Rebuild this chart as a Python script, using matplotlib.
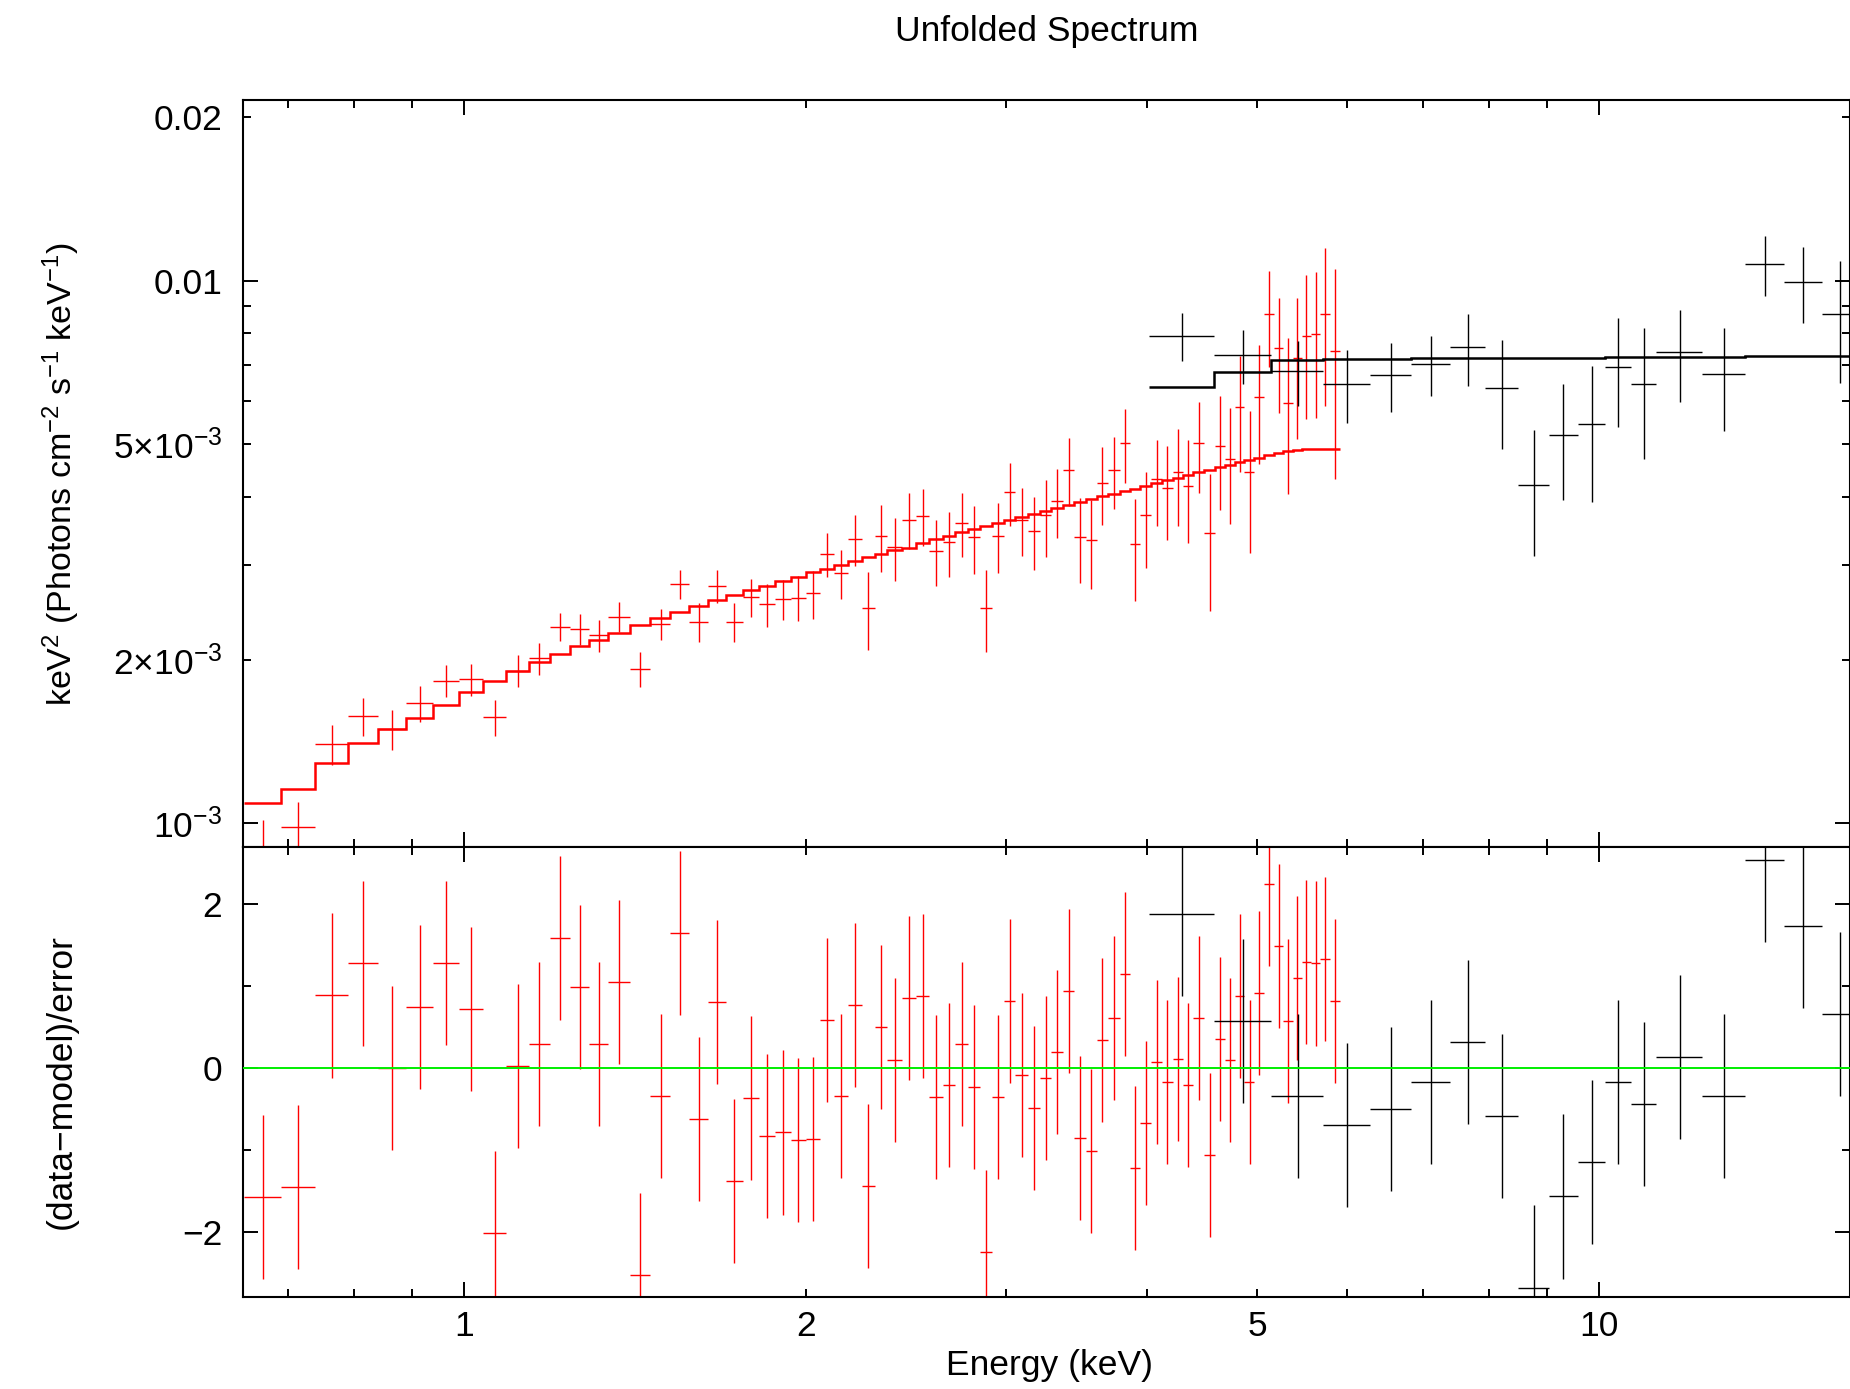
import numpy as np
import matplotlib
matplotlib.use('Agg')
import matplotlib.pyplot as plt
from matplotlib.ticker import FixedLocator, FixedFormatter, NullFormatter

plt.rcParams['font.family'] = ['Liberation Sans', 'DejaVu Sans']
plt.rcParams['mathtext.fontset'] = 'custom'
plt.rcParams['mathtext.rm'] = 'Liberation Sans'
plt.rcParams['mathtext.it'] = 'Liberation Sans:italic'
plt.rcParams['mathtext.bf'] = 'Liberation Sans:bold'
plt.rcParams['mathtext.default'] = 'regular'

# --- red spectrum (soft band), bin edges in keV ---
red_edges = [0.64, 0.69, 0.74, 0.79, 0.84, 0.89, 0.94, 0.99, 1.04, 1.09, 1.14, 1.19,
             1.24, 1.29, 1.34, 1.40, 1.46, 1.52, 1.58, 1.64, 1.70, 1.76, 1.82, 1.88,
             1.94, 2.00, 2.06, 2.12, 2.18, 2.24, 2.30, 2.36, 2.43, 2.50, 2.57, 2.64,
             2.71, 2.78, 2.85, 2.92, 2.99, 3.06, 3.14, 3.22, 3.29, 3.37, 3.45, 3.53,
             3.61, 3.69, 3.78, 3.86, 3.94, 4.03, 4.12, 4.21, 4.30, 4.39, 4.49, 4.59,
             4.68, 4.78, 4.87, 4.97, 5.07, 5.17, 5.27, 5.37, 5.47, 5.57, 5.68, 5.79, 5.91]
# keV^2 flux, units of 1e-3
red_flux = [0.887, 0.987, 1.399, 1.578, 1.491, 1.665, 1.833, 1.844, 1.569, 1.912, 2.015, 2.305,
            2.279, 2.222, 2.404, 1.928, 2.331, 2.763, 2.354, 2.739, 2.354, 2.611, 2.535, 2.589,
            2.607, 2.655, 3.137, 2.891, 3.343, 2.498, 3.390, 3.227, 3.629, 3.692, 3.182, 3.297,
            3.583, 3.367, 2.498, 3.390, 4.076, 3.629, 3.459, 3.698, 3.929, 4.481, 3.377, 3.329,
            4.246, 4.474, 5.018, 3.269, 3.698, 4.307, 4.146, 4.437, 4.192, 5.018, 3.434, 4.955,
            4.694, 5.861, 4.449, 6.100, 8.680, 7.510, 5.950, 7.200, 7.910, 7.980, 8.690, 7.420]
red_err = [0.128, 0.110, 0.120, 0.128, 0.125, 0.125, 0.125, 0.125, 0.120, 0.130, 0.140, 0.140,
           0.150, 0.150, 0.150, 0.145, 0.155, 0.170, 0.190, 0.190, 0.190, 0.210, 0.230, 0.220,
           0.250, 0.270, 0.290, 0.300, 0.360, 0.410, 0.480, 0.430, 0.430, 0.450, 0.440, 0.450,
           0.480, 0.480, 0.430, 0.500, 0.540, 0.520, 0.530, 0.600, 0.570, 0.640, 0.600, 0.620,
           0.700, 0.670, 0.780, 0.700, 0.740, 0.780, 0.820, 0.900, 0.900, 0.950, 0.970, 1.170,
           1.130, 1.410, 1.300, 1.500, 1.740, 1.800, 1.900, 2.100, 2.350, 2.400, 2.800, 3.100]
red_model = [1.089, 1.158, 1.291, 1.405, 1.491, 1.562, 1.655, 1.747, 1.828, 1.910, 1.984, 2.056,
             2.123, 2.181, 2.244, 2.318, 2.388, 2.453, 2.517, 2.578, 2.633, 2.693, 2.743, 2.798,
             2.850, 2.904, 2.948, 2.995, 3.046, 3.094, 3.141, 3.192, 3.222, 3.287, 3.343, 3.390,
             3.440, 3.489, 3.533, 3.578, 3.624, 3.670, 3.723, 3.765, 3.814, 3.863, 3.907, 3.957,
             4.007, 4.052, 4.099, 4.139, 4.187, 4.240, 4.289, 4.337, 4.387, 4.437, 4.486, 4.537,
             4.582, 4.628, 4.674, 4.720, 4.768, 4.815, 4.856, 4.883, 4.890, 4.895, 4.900, 4.900]
red_resid = [-1.58, -1.46, 0.88, 1.27, 0.0, 0.74, 1.28, 0.72, -2.01, 0.02, 0.29, 1.58,
             0.98, 0.29, 1.04, -2.53, -0.345, 1.64, -0.63, 0.80, -1.38, -0.365, -0.83, -0.79,
             -0.88, -0.87, 0.58, -0.35, 0.76, -1.44, 0.50, 0.09, 0.85, 0.87, -0.36, -0.21,
             0.285, -0.24, -2.25, -0.36, 0.81, -0.09, -0.49, -0.125, 0.19, 0.935, -0.86, -1.01,
             0.34, 0.61, 1.14, -1.22, -0.67, 0.07, -0.18, 0.105, -0.215, 0.61, -1.07, 0.35,
             0.09, 0.87, -0.18, 0.91, 2.24, 1.48, 0.57, 1.09, 1.29, 1.27, 1.33, 0.81]

# --- black spectrum (hard band) ---
blk_edges = [4.01, 4.575, 5.144, 5.707, 6.277, 6.832, 7.387, 7.929, 8.477, 9.03,
             9.57, 10.125, 10.67, 11.22, 12.33, 13.44, 14.56, 15.70, 16.89]
blk_flux = [7.91, 7.29, 6.81, 6.46, 6.70, 7.02, 7.55, 6.34, 4.21, 5.20,
            5.44, 6.95, 6.44, 7.40, 6.73, 10.73, 9.95, 8.69]
blk_err = [0.80, 0.84, 0.94, 1.00, 0.98, 0.90, 1.15, 1.45, 1.10, 1.25,
           1.53, 1.58, 1.74, 1.42, 1.45, 1.36, 1.58, 2.20]
blk_model = [6.38, 6.79, 7.13, 7.18, 7.19, 7.20, 7.20, 7.21, 7.21, 7.22,
             7.22, 7.23, 7.23, 7.24, 7.25, 7.26, 7.27, 7.27]
blk_resid = [1.87, 0.57, -0.34, -0.70, -0.50, -0.18, 0.31, -0.59, -2.68, -1.57,
             -1.15, -0.17, -0.44, 0.13, -0.345, 2.53, 1.73, 0.655]

fig = plt.figure(figsize=(18.5, 13.89), dpi=100)
ax1 = fig.add_axes([0.1314, 0.3902, 0.8686, 0.5378])
ax2 = fig.add_axes([0.1314, 0.0662, 0.8686, 0.3240])


def crosses(ax, edges, y, yerr, color):
    e = np.array(edges)
    c = 0.5 * (e[1:] + e[:-1])
    w = 0.5 * (e[1:] - e[:-1])
    ax.errorbar(c, y, xerr=w, yerr=yerr, fmt='none', ecolor=color,
                elinewidth=1.0, capsize=0)


scale = 1e-3
crosses(ax1, red_edges, np.array(red_flux) * scale, np.array(red_err) * scale, 'red')
crosses(ax1, blk_edges, np.array(blk_flux) * scale, np.array(blk_err) * scale, 'black')
ax1.stairs(np.array(red_model) * scale, red_edges, baseline=None, color='red', lw=1.8, zorder=3)
ax1.stairs(np.array(blk_model) * scale, blk_edges, baseline=None, color='black', lw=1.8, zorder=3)

crosses(ax2, red_edges, red_resid, np.ones(len(red_resid)), 'red')
crosses(ax2, blk_edges, blk_resid, np.ones(len(blk_resid)), 'black')
ax2.axhline(0, color='#00ee00', lw=1.4, zorder=3)

fs = 25.5
xlim = (0.639, 16.63)
for ax in (ax1, ax2):
    ax.set_xscale('log')
    ax.set_xlim(*xlim)
    ax.xaxis.set_major_locator(FixedLocator([1, 10]))
    ax.xaxis.set_minor_locator(FixedLocator([0.7, 0.8, 0.9, 2, 3, 4, 5, 6, 7, 8, 9, 20]))
    ax.tick_params(which='both', direction='in', top=True, right=True, width=1.4,
                   labelsize=fs)
    ax.tick_params(which='major', length=11)
    ax.tick_params(which='minor', length=5.5)
    ax.tick_params(axis='y', which='both', pad=15)
    ax.tick_params(axis='x', which='both', pad=9)
    for s in ax.spines.values():
        s.set_linewidth(1.5)

ax1.xaxis.set_major_formatter(NullFormatter())
ax1.xaxis.set_minor_formatter(NullFormatter())
ax2.xaxis.set_major_formatter(FixedFormatter(['1', '10']))
ax2.xaxis.set_minor_formatter(FixedFormatter(['', '', '', '2', '', '', '5', '', '', '', '', '']))

ax1.set_yscale('log')
ax1.set_ylim(9.05e-4, 0.02153)
ax1.yaxis.set_major_locator(FixedLocator([1e-3, 1e-2]))
ax1.yaxis.set_major_formatter(FixedFormatter(['10$^{-3}$', '0.01']))
ax1.yaxis.set_minor_locator(FixedLocator([2e-3, 3e-3, 4e-3, 5e-3, 6e-3, 7e-3, 8e-3, 9e-3, 2e-2]))
ax1.yaxis.set_minor_formatter(FixedFormatter(['2\u00d710$^{-3}$', '', '',
                                              '5\u00d710$^{-3}$',
                                              '', '', '', '', '0.02']))

ax2.set_ylim(-2.796, 2.69)
ax2.yaxis.set_major_locator(FixedLocator([-2, 0, 2]))
ax2.yaxis.set_major_formatter(FixedFormatter(['\u22122', '0', '2']))
ax2.yaxis.set_minor_locator(FixedLocator([-1, 1]))
ax2.yaxis.set_minor_formatter(NullFormatter())

fig.text(1047 / 1850, 1 - 31 / 1389, 'Unfolded Spectrum', ha='center', va='center', fontsize=fs)
fig.text(1050 / 1850, 1 - 1366 / 1389, 'Energy (keV)', ha='center', va='center', fontsize=fs)
fig.text(61 / 1850, 1 - 474 / 1389,
         'keV$^{2}$ (Photons cm$^{-2}$ s$^{-1}$ keV$^{-1}$)',
         rotation=90, ha='center', va='center', fontsize=24.5)
fig.text(61 / 1850, 1 - 1082 / 1389, '(data\u2212model)/error',
         rotation=90, ha='center', va='center', fontsize=fs)

fig.savefig('out.png', dpi=100)
